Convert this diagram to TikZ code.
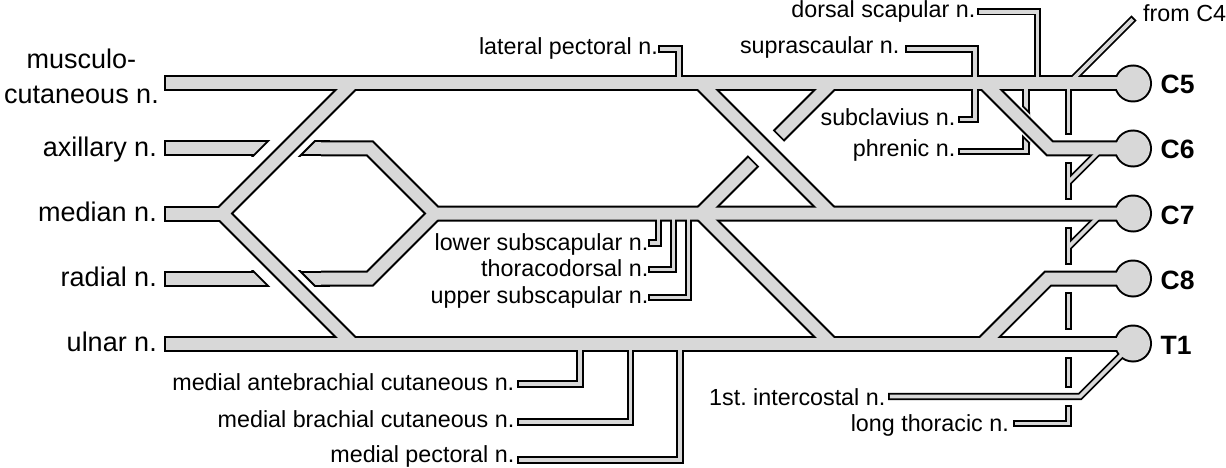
\documentclass[tikz,border=0pt]{standalone}
\usepackage{fontspec}
\setmainfont{Liberation Sans}
\definecolor{nervegray}{RGB}{216,216,216}
\usetikzlibrary{positioning}
\pgfdeclarelayer{underedge}
\pgfdeclarelayer{underfill}
\pgfdeclarelayer{halo}
\pgfdeclarelayer{edge}
\pgfsetlayers{underedge,underfill,halo,edge,main}

% one tube: black outline below, grey core on top
\newcommand{\nerve}[2][]{%
  \begin{pgfonlayer}{edge}\draw[nerveedge] #2;\end{pgfonlayer}
  \draw[nervecore,#1] #2;}
\newcommand{\twig}[2][]{%
  \begin{pgfonlayer}{edge}\draw[twigedge] #2;\end{pgfonlayer}
  \draw[twigcore,#1] #2;}

\begin{document}
\begin{tikzpicture}[
  x=1pt, y=-1pt,
  nerveedge/.style={draw=black, line width=16pt},
  nervecore/.style={draw=nervegray, line width=12pt},
  twigedge/.style={draw=black, line width=7.4pt},
  twigcore/.style={draw=nervegray, line width=3.8pt},
  capL/.style={shorten <=1.9pt},
  capR/.style={shorten >=1.9pt},
  lbl/.style={font=\fontsize{23.3}{27}\selectfont, inner sep=0pt, anchor=base east},
  bigl/.style={font=\fontsize{27}{35}\selectfont, inner sep=0pt, anchor=base east},
  rootl/.style={font=\fontsize{26.5}{30}\selectfont\bfseries, inner sep=0pt, anchor=base west},
]
  \useasboundingbox (0,0) rectangle (1226,468);

  % roots and cord ends
  \coordinate (c5) at (1133,83.5);
  \coordinate (c6) at (1133,148.5);
  \coordinate (c7) at (1133,213.5);
  \coordinate (c8) at (1133,278.5);
  \coordinate (t1) at (1133,343.5);
  \coordinate (mc) at (164,83.5);
  \coordinate (ax) at (164,148.5);
  \coordinate (me) at (164,213.5);
  \coordinate (ra) at (164,278.5);
  \coordinate (ul) at (164,343.5);
  \coordinate (xm) at (222,213.5);
  \coordinate (hx) at (435,213.5);
  \coordinate (pj) at (701,213.5);

  % pieces that run under a crossing
  \begin{pgfonlayer}{underedge}
    \draw[nerveedge] (ax) -- (330,148.5);
    \draw[nerveedge] (ra) -- (330,278.5);
    \draw[twigedge] (1026,83.5) |- (958,151.5);
  \end{pgfonlayer}
  \begin{pgfonlayer}{underfill}
    \draw[nervecore,capL] (ax) -- (330,148.5);
    \draw[nervecore,capL] (ra) -- (330,278.5);
    \draw[twigcore,capR] (1026,83.5) |- (958,151.5);
  \end{pgfonlayer}
  \begin{pgfonlayer}{halo}
    \begin{scope}
      \clip (240,140.5) rectangle (330,156.5);
      \draw[line width=35pt] (349,83.5) -- (219,213.5);
      \draw[white, line width=31pt] (349,83.5) -- (219,213.5);
    \end{scope}
    \begin{scope}
      \clip (240,270.5) rectangle (330,286.5);
      \draw[line width=35pt] (219,213.5) -- (349,343.5);
      \draw[white, line width=31pt] (219,213.5) -- (349,343.5);
    \end{scope}
    \begin{scope}
      \clip (1022,95) rectangle (1030,146);
      \draw[line width=23pt] (985,83.5) -- (1050,148.5);
      \draw[white, line width=19.4pt] (985,83.5) -- (1050,148.5);
    \end{scope}
  \end{pgfonlayer}

  % root circles
  \begin{pgfonlayer}{edge}
    \foreach \r in {c5,c6,c7,c8,t1}
      \fill (\r) circle[radius=19pt];
  \end{pgfonlayer}
  \foreach \r in {c5,c6,c7,c8,t1}
    \fill[nervegray] (\r) circle[radius=17pt];

  % trunks and cords
  \nerve[capL]{(mc) -- (c5)}
  \nerve[capL]{(ul) -- (t1)}
  \nerve[capL]{(me) -- (xm)}
  \nerve{(352,83.5) -- (xm) -- (352,343.5)}
  \nerve{(321,148.5) -- (370,148.5) -- (hx) -- (c7)}
  \nerve{(321,278.5) -- (370,278.5) -- (hx)}
  \nerve{(701,83.5) -- (831,213.5)}
  \nerve[capR]{(831,83.5) -- (778.4,136.1)}
  \nerve[capR]{(pj) -- (753.6,160.9)}
  \nerve{(pj) -- (831,343.5)}
  \nerve{(985,83.5) -- (1050,148.5) -- (c6)}
  \nerve{(c8) -- (1048,278.5) -- (983,343.5)}

  % small branches
  \twig[capR]{(679,83.5) |- (658,49)}
  \twig[capR]{(975,83.5) |- (905,49)}
  \twig[capR]{(975,83.5) |- (958,119.5)}
  \twig[capR]{(1037.5,83.5) |- (977,11.7)}
  \twig{(1026,83.5) -- (1026,100)}
  \twig[capL]{(1134,18) -- (1068.5,83.5)}
  \twig[capR]{(1068.5,83.5) -- (1068.5,135)}
  \twig[capL,capR]{(1068.5,162) -- (1068.5,200)}
  \twig[capL,capR]{(1068.5,227) -- (1068.5,265)}
  \twig[capL,capR]{(1068.5,292) -- (1068.5,330)}
  \twig[capL,capR]{(1068.5,357) -- (1068.5,388)}
  \twig[capL,capR]{(1068.5,405) |- (1013,423.5)}
  \twig{(1102,148.5) -- (1068.5,182)}
  \twig{(1102,213.5) -- (1068.5,247)}
  \twig[capR]{(1122,354.5) -- (1080,396.5) -- (888,396.5)}
  \twig[capR]{(658.5,213.5) |- (648,243)}
  \twig[capR]{(673.5,213.5) |- (648,269.5)}
  \twig[capR]{(688.5,213.5) |- (648,297.5)}
  \twig[capR]{(580,343.5) |- (517,384)}
  \twig[capR]{(630.5,343.5) |- (517,422)}
  \twig[capR]{(680,343.5) |- (517,460)}

  % labels
  \node[bigl, align=center] (musc) at (159,103.3) {musculo-\\cutaneous n.};
  \node[bigl] (axil) at (157,156.5) {axillary n.};
  \node[bigl] (medn) at (157,221.7) {median n.};
  \node[bigl] (radl) at (157,286.7) {radial n.};
  \node[bigl] (ulnr) at (157,351) {ulnar n.};
  \node[lbl] (latpec) at (658,55) {lateral pectoral n.};
  \node[lbl] (suprasc) at (899.5,53.3) {suprascaular n.};
  \node[lbl] (dorsc) at (975.5,17.5) {dorsal scapular n.};
  \node[lbl] (subcl) at (955.5,125.5) {subclavius n.};
  \node[lbl] (phren) at (955.5,157) {phrenic n.};
  \node[lbl, anchor=base west] (fromc4) at (1143,21.7) {from C4};
  \node[lbl] (lowsub) at (648.5,250) {lower subscapular n.};
  \node[lbl] (thordo) at (648.5,276.5) {thoracodorsal n.};
  \node[lbl] (uppsub) at (648.5,303) {upper subscapular n.};
  \node[lbl] (medante) at (514.5,390) {medial antebrachial cutaneous n.};
  \node[lbl] (medbrach) at (514.5,427) {medial brachial cutaneous n.};
  \node[lbl] (medpec) at (514.5,462) {medial pectoral n.};
  \node[lbl] (intercost) at (885.5,405) {1st.\ intercostal n.};
  \node[lbl] (longthor) at (1009,431.5) {long thoracic n.};
  \node[rootl] (lc5) at (1160.5,94) {C5};
  \node[rootl] (lc6) at (1160.5,159) {C6};
  \node[rootl] (lc7) at (1160.5,224) {C7};
  \node[rootl] (lc8) at (1160.5,289) {C8};
  \node[rootl] (lt1) at (1160.5,354) {T1};
\end{tikzpicture}
\end{document}
